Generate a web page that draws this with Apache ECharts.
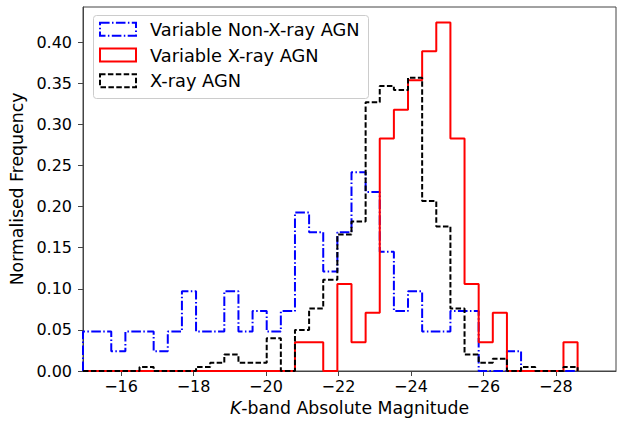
<!DOCTYPE html>
<html>
<head>
<meta charset="utf-8">
<script src="https://cdn.jsdelivr.net/npm/echarts@6/dist/echarts.min.js"></script>
<style>
html,body{margin:0;padding:0;background:#fff;}
#chart{width:620px;height:423px;}
</style>
</head>
<body>
<div id="chart"></div>
<script>
// Bin edges (K-band absolute magnitude)
var binEdges = [-14.95, -15.34, -15.73, -16.12, -16.51, -16.90, -17.29, -17.68, -18.07, -18.46,
  -18.85, -19.24, -19.63, -20.02, -20.41, -20.80, -21.19, -21.58, -21.97, -22.36,
  -22.75, -23.14, -23.53, -23.92, -24.31, -24.70, -25.09, -25.48, -25.87, -26.26,
  -26.65, -27.04, -27.43, -27.82, -28.21, -28.60];

// Normalised frequency per bin
var varNonXray = [0.048, 0.048, 0.024, 0.048, 0.048, 0.024, 0.048, 0.097, 0.048, 0.048,
  0.097, 0.048, 0.073, 0.048, 0.073, 0.193, 0.169, 0.121, 0.169, 0.242,
  0.218, 0.145, 0.073, 0.097, 0.048, 0.048, 0.073, 0.073, 0, 0,
  0.024, 0, 0, 0, 0];
var varXray = [0, 0, 0, 0, 0, 0, 0, 0, 0, 0,
  0, 0, 0, 0, 0, 0.035, 0.035, 0, 0.106, 0.035,
  0.071, 0.283, 0.318, 0.354, 0.389, 0.424, 0.283, 0.106, 0.035, 0.071,
  0, 0, 0, 0, 0.035];
var xrayAGN = [0, 0, 0, 0, 0.005, 0, 0, 0, 0.005, 0.010,
  0.020, 0.010, 0.010, 0.040, 0, 0.050, 0.076, 0.111, 0.166, 0.182,
  0.327, 0.347, 0.342, 0.357, 0.207, 0.176, 0.076, 0.020, 0.010, 0.015,
  0, 0.005, 0, 0, 0.005];

var seriesNames = ['Variable Non-X-ray AGN', 'Variable X-ray AGN', 'X-ray AGN'];
var xTicks = [-16, -18, -20, -22, -24, -26, -28];
var yTicks = [0, 0.05, 0.10, 0.15, 0.20, 0.25, 0.30, 0.35, 0.40];

function stepData(vals) {
  var d = [[binEdges[0], 0]];
  for (var i = 0; i < vals.length; i++) d.push([binEdges[i], vals[i]]);
  d.push([binEdges[vals.length], 0]);
  return d;
}

var FONT = 'DejaVu Sans';
var FS = 16;      // tick labels
var FT = 17.3;    // axis titles
var FL = 17.8;    // legend
var blueDash = [9.6, 2.4, 1.5, 2.4];
var blackDash = [5.5, 2.4];

var chart = echarts.init(document.getElementById('chart'), null, {renderer: 'svg'});
var legendX = 93, legendY = 15;
var rows = [29.2, 55, 80.7];
var styles = [
  {color: '#0000ff', dash: blueDash},
  {color: '#ff0000', dash: null},
  {color: '#000000', dash: blackDash}
];
var graphics = [{
  type: 'rect', left: legendX, top: legendY, z: 10,
  shape: {width: 275, height: 83, r: 3},
  style: {fill: 'rgba(255,255,255,0.8)', stroke: '#cccccc', lineWidth: 1}
}];
for (var i = 0; i < 3; i++) {
  graphics.push({
    type: 'rect', z: 11,
    shape: {x: 100, y: rows[i] - 6.5, width: 36, height: 13},
    style: {fill: 'none', stroke: styles[i].color, lineWidth: 2, lineDash: styles[i].dash}
  });
  graphics.push({
    type: 'text', z: 11, x: 150, y: rows[i],
    style: {text: seriesNames[i], fill: '#000', fontFamily: FONT, fontSize: FL,
      verticalAlign: 'middle', align: 'left'}
  });
}

var option = {
  animation: false,
  backgroundColor: '#ffffff',
  grid: {left: 83, right: 4, top: 7, bottom: 52, show: true, borderColor: '#444', borderWidth: 1, backgroundColor: 'transparent'},
  xAxis: {
    type: 'value', inverse: true, min: -29.66, max: -14.95,
    name: '{i|K}-band Absolute Magnitude', nameLocation: 'middle', nameGap: 28,
    nameTextStyle: {fontFamily: FONT, fontSize: FT, color: '#000', rich: {i: {fontFamily: FONT, fontSize: FT, fontStyle: 'italic', color: '#000'}}},
    axisLine: {show: true, onZero: false, lineStyle: {color: '#444', width: 1}},
    axisTick: {show: true, inside: false, length: 5, customValues: xTicks, lineStyle: {color: '#444', width: 1}},
    axisLabel: {customValues: xTicks, margin: 7, fontFamily: FONT, fontSize: FS, color: '#000',
      formatter: function (v) { return (v < 0 ? '\u2212' : '') + Math.abs(v); }},
    splitLine: {show: false}
  },
  yAxis: {
    type: 'value', min: 0, max: 0.443,
    name: 'Normalised Frequency', nameLocation: 'middle', nameGap: 45,
    nameTextStyle: {fontFamily: FONT, fontSize: FT, color: '#000'},
    axisLine: {show: true, lineStyle: {color: '#444', width: 1}},
    axisTick: {show: true, inside: false, length: 5, customValues: yTicks, lineStyle: {color: '#444', width: 1}},
    axisLabel: {customValues: yTicks, margin: 11, fontFamily: FONT, fontSize: FS, color: '#000',
      formatter: function (v) { return v.toFixed(2); }},
    splitLine: {show: false}
  },
  series: [
    {name: seriesNames[0], type: 'line', step: 'end', data: stepData(varNonXray), showSymbol: false, z: 2,
      lineStyle: {color: '#0000ff', width: 2, type: blueDash}},
    {name: seriesNames[1], type: 'line', step: 'end', data: stepData(varXray), showSymbol: false, z: 3,
      lineStyle: {color: '#ff0000', width: 2, type: 'solid'}},
    {name: seriesNames[2], type: 'line', step: 'end', data: stepData(xrayAGN), showSymbol: false, z: 4,
      lineStyle: {color: '#000000', width: 2, type: blackDash}}
  ],
  graphic: graphics
};
chart.setOption(option);
</script>
</body>
</html>
